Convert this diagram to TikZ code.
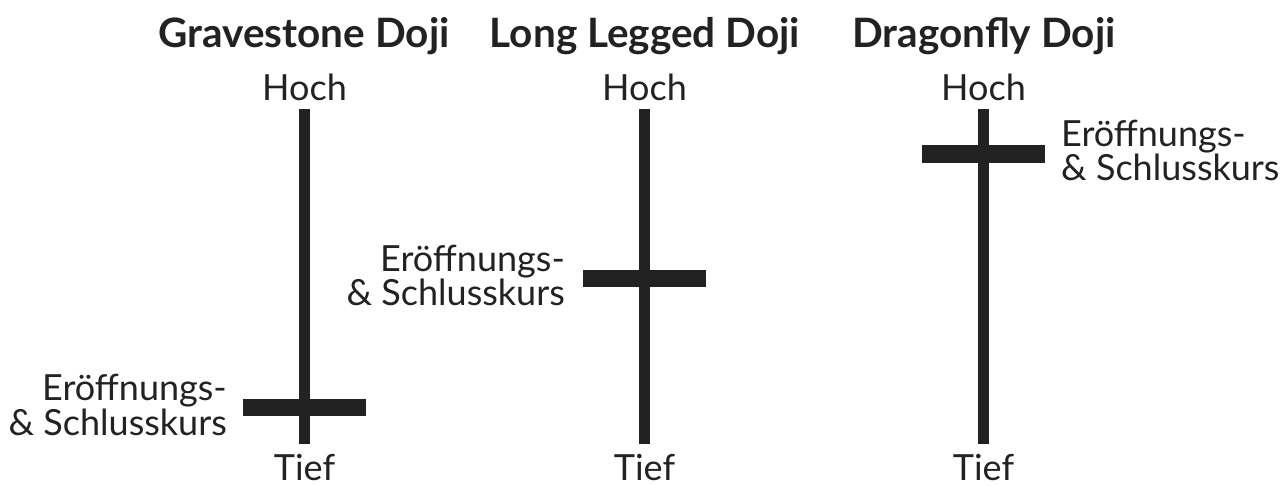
\documentclass[tikz,border=0pt]{standalone}
\usepackage{fontspec}
\setmainfont{Lato}
\definecolor{ink}{HTML}{222222}
\tikzset{
  titel/.style={font=\fontsize{40.5}{40.5}\selectfont\bfseries},
  docht/.style={draw=ink,line width=11pt},
  koerper/.style={draw=ink,line width=17.5pt},
  kurs/.style={align=right,font=\fontsize{36}{33}\selectfont}
}
\begin{document}
\begin{tikzpicture}[x=1pt,y=-1pt,every node/.style={anchor=base,inner sep=0pt,text=ink,font=\fontsize{36}{36}\selectfont}]
  \useasboundingbox (0,0) rectangle (1280,486);
  % titles
  \node[titel] (n1) at (304,48) {Gravestone Doji};
  \node[titel] (n2) at (645,48) {Long Legged Doji};
  \node[titel] (n3) at (984,48) {Dragonfly Doji};
  % high and low
  \node (h1) at (304.5,101) {Hoch};
  \node (h2) at (644.5,101) {Hoch};
  \node (h3) at (983.5,101) {Hoch};
  \node (t1) at (304.5,480) {Tief};
  \node (t2) at (644.5,480) {Tief};
  \node (t3) at (983.5,480) {Tief};
  \draw[docht,shorten <=8pt,shorten >=10pt] (h1.south) -- (t1.north);
  \draw[docht,shorten <=8pt,shorten >=10pt] (h2.south) -- (t2.north);
  \draw[docht,shorten <=8pt,shorten >=10pt] (h3.south) -- (t3.north);
  % open = close
  \draw[koerper] (304.5,407.5) ++(-61.5,0) -- ++(123,0);
  \draw[koerper] (644.5,278.5) ++(-61.5,0) -- ++(123,0);
  \draw[koerper] (983.5,154) ++(-61.5,0) -- ++(123,0);
  \node[kurs,anchor=base east] (k1) at (227,435) {Eröffnungs-\\\& Schlusskurs};
  \node[kurs,anchor=base east] (k2) at (565,306) {Eröffnungs-\\\& Schlusskurs};
  \node[kurs,align=left,anchor=base west] (k3) at (1061,181) {Eröffnungs-\\\& Schlusskurs};
\end{tikzpicture}
\end{document}
